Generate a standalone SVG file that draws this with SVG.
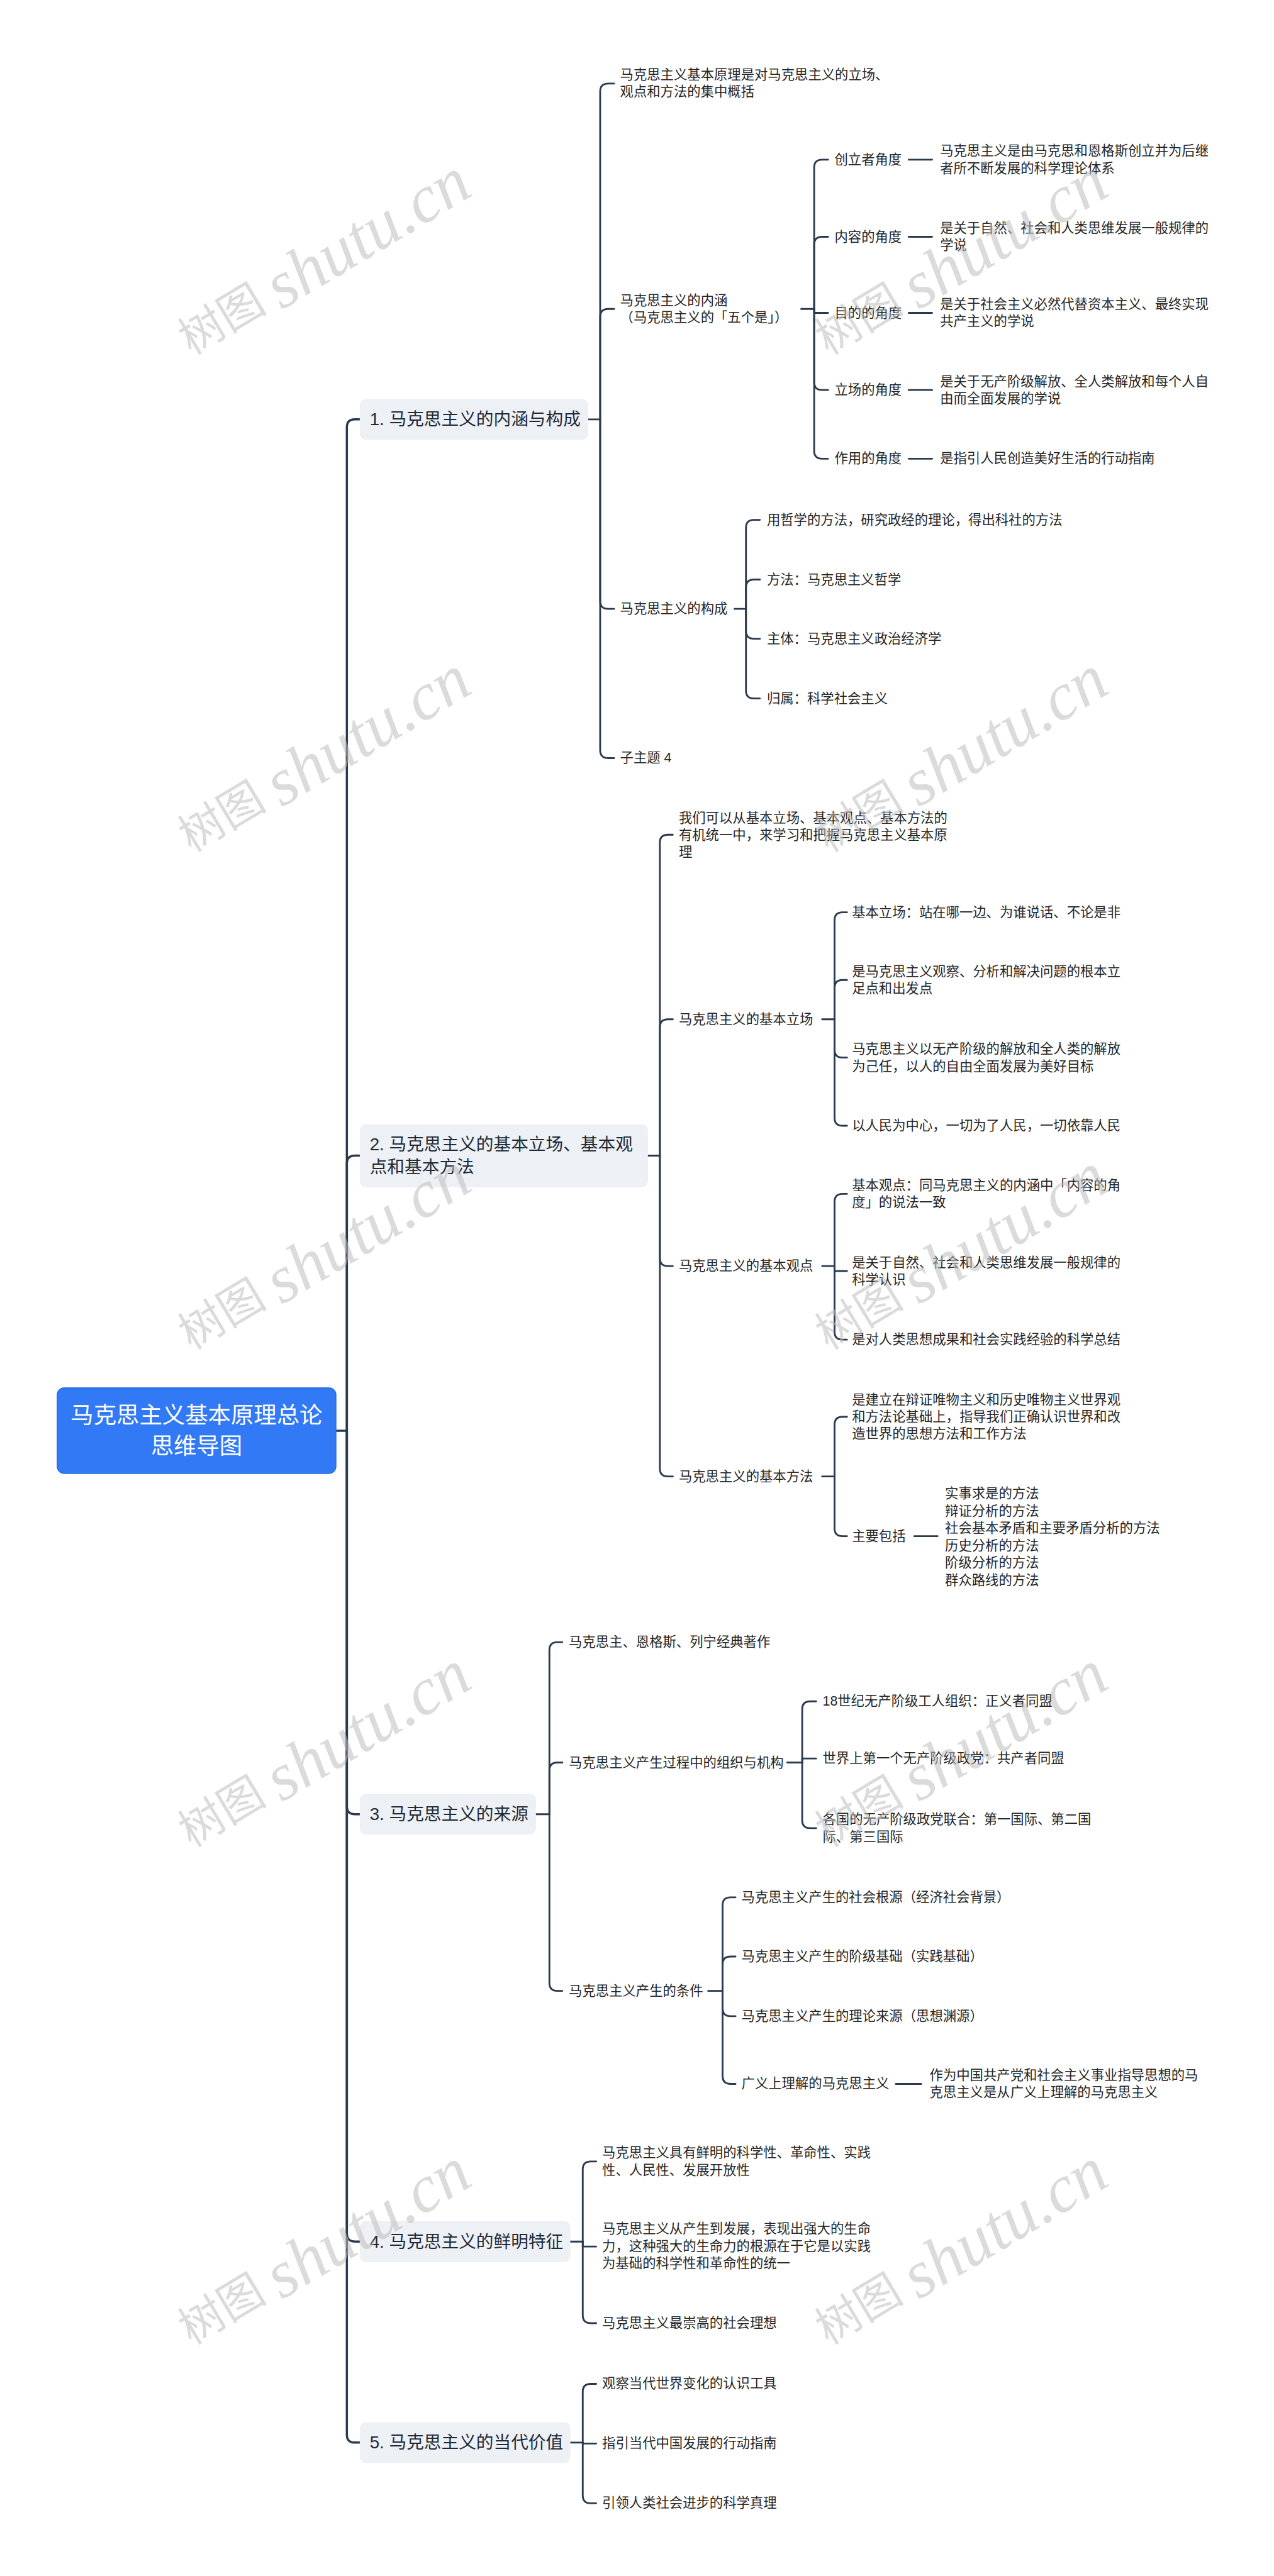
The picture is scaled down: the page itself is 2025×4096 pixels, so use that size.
<svg xmlns="http://www.w3.org/2000/svg" width="2025" height="4096" viewBox="0 0 2025 4096">
<style>
text{font-family:"Liberation Sans","Noto Sans CJK SC",sans-serif;dominant-baseline:central}
.t{font-size:27px;fill:#262626}
.b{font-size:35px;fill:#1f2a37}
.r{font-size:46px;fill:#ffffff;text-anchor:middle}
.bx{fill:#edf0f4}
.c path{fill:none;stroke:#2b3a4e;stroke-width:3.6;stroke-linecap:round;stroke-linejoin:round}
.c .tr{stroke-width:4.4}
.w{font-family:"Liberation Serif","Noto Sans CJK SC",serif;font-size:90px;fill:#bdbdbd;fill-opacity:0.55;text-anchor:middle}
.wl{font-size:135px;font-style:italic}
</style>
<rect width="2025" height="4096" fill="#ffffff"/>
<g transform="scale(0.791)">
<g class="c" id="connectors">
<path class="tr" d="M675 2876H697"/>
<path class="tr" d="M697 2876V859Q697 843 713 843H723"/>
<path class="tr" d="M697 2876V2339Q697 2323 713 2323H723"/>
<path class="tr" d="M697 2876V3631Q697 3647 713 3647H723"/>
<path class="tr" d="M697 2876V4490Q697 4506 713 4506H723"/>
<path class="tr" d="M697 2876V4894Q697 4910 713 4910H723"/>
<path d="M1182 843H1206"/>
<path d="M1206 843V184Q1206 168 1222 168H1234"/>
<path d="M1206 843V637Q1206 621 1222 621H1234"/>
<path d="M1206 843V1208Q1206 1224 1222 1224H1234"/>
<path d="M1206 843V1508Q1206 1524 1222 1524H1234"/>
<path d="M1610 621H1636"/>
<path d="M1636 621V337Q1636 321 1652 321H1664"/>
<path d="M1636 621V492Q1636 476 1652 476H1664"/>
<path d="M1636 621V629H1664"/>
<path d="M1636 621V768Q1636 784 1652 784H1664"/>
<path d="M1636 621V906Q1636 922 1652 922H1664"/>
<path d="M1826 321H1873"/>
<path d="M1826 476H1873"/>
<path d="M1826 629H1873"/>
<path d="M1826 784H1873"/>
<path d="M1826 922H1873"/>
<path d="M1476 1224H1499"/>
<path d="M1499 1224V1061Q1499 1045 1515 1045H1527"/>
<path d="M1499 1224V1181Q1499 1165 1515 1165H1527"/>
<path d="M1499 1224V1268Q1499 1284 1515 1284H1527"/>
<path d="M1499 1224V1388Q1499 1404 1515 1404H1527"/>
<path d="M1302 2323H1326"/>
<path d="M1326 2323V1694Q1326 1678 1342 1678H1352"/>
<path d="M1326 2323V2065Q1326 2049 1342 2049H1352"/>
<path d="M1326 2323V2529Q1326 2545 1342 2545H1352"/>
<path d="M1326 2323V2952Q1326 2968 1342 2968H1352"/>
<path d="M1652 2049H1677"/>
<path d="M1677 2049V1850Q1677 1834 1693 1834H1702"/>
<path d="M1677 2049V1986Q1677 1970 1693 1970H1702"/>
<path d="M1677 2049V2110Q1677 2126 1693 2126H1702"/>
<path d="M1677 2049V2247Q1677 2263 1693 2263H1702"/>
<path d="M1652 2545H1677"/>
<path d="M1677 2545V2416Q1677 2400 1693 2400H1702"/>
<path d="M1677 2545V2555H1702"/>
<path d="M1677 2545V2677Q1677 2693 1693 2693H1702"/>
<path d="M1652 2968H1677"/>
<path d="M1677 2968V2864Q1677 2848 1693 2848H1702"/>
<path d="M1677 2968V3072Q1677 3088 1693 3088H1702"/>
<path d="M1837 3088H1884"/>
<path d="M1077 3647H1104"/>
<path d="M1104 3647V3317Q1104 3301 1120 3301H1130"/>
<path d="M1104 3647V3559Q1104 3543 1120 3543H1130"/>
<path d="M1104 3647V3986Q1104 4002 1120 4002H1130"/>
<path d="M1582 3543H1612"/>
<path d="M1612 3543V3436Q1612 3420 1628 3420H1640"/>
<path d="M1612 3543V3535H1640"/>
<path d="M1612 3543V3659Q1612 3675 1628 3675H1640"/>
<path d="M1423 4002H1452"/>
<path d="M1452 4002V3830Q1452 3814 1468 3814H1478"/>
<path d="M1452 4002V3949Q1452 3933 1468 3933H1478"/>
<path d="M1452 4002V4037Q1452 4053 1468 4053H1478"/>
<path d="M1452 4002V4173Q1452 4189 1468 4189H1478"/>
<path d="M1800 4189H1851"/>
<path d="M1146 4506H1171"/>
<path d="M1171 4506V4361Q1171 4345 1187 4345H1198"/>
<path d="M1171 4506V4516H1198"/>
<path d="M1171 4506V4654Q1171 4670 1187 4670H1198"/>
<path d="M1146 4910H1171"/>
<path d="M1171 4910V4808Q1171 4792 1187 4792H1198"/>
<path d="M1171 4910V4912H1198"/>
<path d="M1171 4910V5016Q1171 5032 1187 5032H1198"/>
</g>

<g id="root">
<rect x="115" y="2790" width="560" height="172" rx="14" fill="#3179f5" stroke="#2b6de2" stroke-width="2"/>
<text class="r" x="395" y="2845">马克思主义基本原理总论</text>
<text class="r" x="395" y="2907">思维导图</text>
</g>

<g id="b1"><rect class="bx" x="723" y="802" width="459" height="82" rx="12"/><text class="b" x="743" y="843">1. 马克思主义的内涵与构成</text></g>
<g id="b2"><rect class="bx" x="723" y="2260" width="579" height="127" rx="12"/><text class="b" x="743" y="2300">2. 马克思主义的基本立场、基本观</text><text class="b" x="743" y="2346">点和基本方法</text></g>
<g id="b3"><rect class="bx" x="723" y="3606" width="354" height="82" rx="12"/><text class="b" x="743" y="3647">3. 马克思主义的来源</text></g>
<g id="b4"><rect class="bx" x="723" y="4465" width="423" height="82" rx="12"/><text class="b" x="743" y="4506">4. 马克思主义的鲜明特征</text></g>
<g id="b5"><rect class="bx" x="723" y="4869" width="423" height="82" rx="12"/><text class="b" x="743" y="4910">5. 马克思主义的当代价值</text></g>

<g id="n1-1"><text class="t" x="1246" y="150.5">马克思主义基本原理是对马克思主义的立场、</text><text class="t" x="1246" y="185">观点和方法的集中概括</text></g>
<g id="n1-2"><text class="t" x="1246" y="604">马克思主义的内涵</text><text class="t" x="1246" y="638.5">（马克思主义的「五个是」）</text></g>
<g id="n1-2-1"><text class="t" x="1677" y="321">创立者角度</text></g>
<g id="n1-2-1a"><text class="t" x="1889" y="304">马克思主义是由马克思和恩格斯创立并为后继</text><text class="t" x="1889" y="338.5">者所不断发展的科学理论体系</text></g>
<g id="n1-2-2"><text class="t" x="1677" y="476">内容的角度</text></g>
<g id="n1-2-2a"><text class="t" x="1889" y="459">是关于自然、社会和人类思维发展一般规律的</text><text class="t" x="1889" y="493.5">学说</text></g>
<g id="n1-2-3"><text class="t" x="1677" y="629">目的的角度</text></g>
<g id="n1-2-3a"><text class="t" x="1889" y="612">是关于社会主义必然代替资本主义、最终实现</text><text class="t" x="1889" y="646.5">共产主义的学说</text></g>
<g id="n1-2-4"><text class="t" x="1677" y="784">立场的角度</text></g>
<g id="n1-2-4a"><text class="t" x="1889" y="767">是关于无产阶级解放、全人类解放和每个人自</text><text class="t" x="1889" y="801.5">由而全面发展的学说</text></g>
<g id="n1-2-5"><text class="t" x="1677" y="922">作用的角度</text></g>
<g id="n1-2-5a"><text class="t" x="1889" y="922">是指引人民创造美好生活的行动指南</text></g>
<g id="n1-3"><text class="t" x="1246" y="1224">马克思主义的构成</text></g>
<g id="n1-3-1"><text class="t" x="1541" y="1045">用哲学的方法，研究政经的理论，得出科社的方法</text></g>
<g id="n1-3-2"><text class="t" x="1541" y="1165">方法：马克思主义哲学</text></g>
<g id="n1-3-3"><text class="t" x="1541" y="1284">主体：马克思主义政治经济学</text></g>
<g id="n1-3-4"><text class="t" x="1541" y="1404">归属：科学社会主义</text></g>
<g id="n1-4"><text class="t" x="1246" y="1524">子主题 4</text></g>

<g id="n2-1"><text class="t" x="1364" y="1644.5">我们可以从基本立场、基本观点、基本方法的</text><text class="t" x="1364" y="1679">有机统一中，来学习和把握马克思主义基本原</text><text class="t" x="1364" y="1713.5">理</text></g>
<g id="n2-2"><text class="t" x="1364" y="2049">马克思主义的基本立场</text></g>
<g id="n2-2-1"><text class="t" x="1712" y="1834">基本立场：站在哪一边、为谁说话、不论是非</text></g>
<g id="n2-2-2"><text class="t" x="1712" y="1953">是马克思主义观察、分析和解决问题的根本立</text><text class="t" x="1712" y="1987.5">足点和出发点</text></g>
<g id="n2-2-3"><text class="t" x="1712" y="2109">马克思主义以无产阶级的解放和全人类的解放</text><text class="t" x="1712" y="2143.5">为己任，以人的自由全面发展为美好目标</text></g>
<g id="n2-2-4"><text class="t" x="1712" y="2263">以人民为中心，一切为了人民，一切依靠人民</text></g>
<g id="n2-3"><text class="t" x="1364" y="2545">马克思主义的基本观点</text></g>
<g id="n2-3-1"><text class="t" x="1712" y="2383">基本观点：同马克思主义的内涵中「内容的角</text><text class="t" x="1712" y="2417.5">度」的说法一致</text></g>
<g id="n2-3-2"><text class="t" x="1712" y="2538">是关于自然、社会和人类思维发展一般规律的</text><text class="t" x="1712" y="2572.5">科学认识</text></g>
<g id="n2-3-3"><text class="t" x="1712" y="2693">是对人类思想成果和社会实践经验的科学总结</text></g>
<g id="n2-4"><text class="t" x="1364" y="2968">马克思主义的基本方法</text></g>
<g id="n2-4-1"><text class="t" x="1712" y="2814">是建立在辩证唯物主义和历史唯物主义世界观</text><text class="t" x="1712" y="2848.5">和方法论基础上，指导我们正确认识世界和改</text><text class="t" x="1712" y="2883">造世界的思想方法和工作方法</text></g>
<g id="n2-4-2"><text class="t" x="1712" y="3088">主要包括</text></g>
<g id="n2-4-2a"><text class="t" x="1899" y="3003">实事求是的方法</text><text class="t" x="1899" y="3037.8">辩证分析的方法</text><text class="t" x="1899" y="3072.6">社会基本矛盾和主要矛盾分析的方法</text><text class="t" x="1899" y="3107.4">历史分析的方法</text><text class="t" x="1899" y="3142.2">阶级分析的方法</text><text class="t" x="1899" y="3177">群众路线的方法</text></g>

<g id="n3-1"><text class="t" x="1143" y="3301">马克思主、恩格斯、列宁经典著作</text></g>
<g id="n3-2"><text class="t" x="1143" y="3543">马克思主义产生过程中的组织与机构</text></g>
<g id="n3-2-1"><text class="t" x="1653" y="3420">18世纪无产阶级工人组织：正义者同盟</text></g>
<g id="n3-2-2"><text class="t" x="1653" y="3535">世界上第一个无产阶级政党：共产者同盟</text></g>
<g id="n3-2-3"><text class="t" x="1653" y="3658">各国的无产阶级政党联合：第一国际、第二国</text><text class="t" x="1653" y="3692.5">际、第三国际</text></g>
<g id="n3-3"><text class="t" x="1143" y="4002">马克思主义产生的条件</text></g>
<g id="n3-3-1"><text class="t" x="1490" y="3814">马克思主义产生的社会根源（经济社会背景）</text></g>
<g id="n3-3-2"><text class="t" x="1490" y="3933">马克思主义产生的阶级基础（实践基础）</text></g>
<g id="n3-3-3"><text class="t" x="1490" y="4053">马克思主义产生的理论来源（思想渊源）</text></g>
<g id="n3-3-4"><text class="t" x="1490" y="4189">广义上理解的马克思主义</text></g>
<g id="n3-3-4a"><text class="t" x="1868" y="4172">作为中国共产党和社会主义事业指导思想的马</text><text class="t" x="1868" y="4206.5">克思主义是从广义上理解的马克思主义</text></g>

<g id="n4-1"><text class="t" x="1210" y="4328">马克思主义具有鲜明的科学性、革命性、实践</text><text class="t" x="1210" y="4362.5">性、人民性、发展开放性</text></g>
<g id="n4-2"><text class="t" x="1210" y="4481">马克思主义从产生到发展，表现出强大的生命</text><text class="t" x="1210" y="4515.5">力，这种强大的生命力的根源在于它是以实践</text><text class="t" x="1210" y="4550">为基础的科学性和革命性的统一</text></g>
<g id="n4-3"><text class="t" x="1210" y="4670">马克思主义最崇高的社会理想</text></g>

<g id="n5-1"><text class="t" x="1210" y="4792">观察当代世界变化的认识工具</text></g>
<g id="n5-2"><text class="t" x="1210" y="4912">指引当代中国发展的行动指南</text></g>
<g id="n5-3"><text class="t" x="1210" y="5032">引领人类社会进步的科学真理</text></g>

<g id="watermarks">
<text class="w" transform="translate(650 520) rotate(-31)">树图 <tspan class="wl">shutu.cn</tspan></text>
<text class="w" transform="translate(1930 520) rotate(-31)">树图 <tspan class="wl">shutu.cn</tspan></text>
<text class="w" transform="translate(650 1520) rotate(-31)">树图 <tspan class="wl">shutu.cn</tspan></text>
<text class="w" transform="translate(1930 1520) rotate(-31)">树图 <tspan class="wl">shutu.cn</tspan></text>
<text class="w" transform="translate(650 2520) rotate(-31)">树图 <tspan class="wl">shutu.cn</tspan></text>
<text class="w" transform="translate(1930 2520) rotate(-31)">树图 <tspan class="wl">shutu.cn</tspan></text>
<text class="w" transform="translate(650 3520) rotate(-31)">树图 <tspan class="wl">shutu.cn</tspan></text>
<text class="w" transform="translate(1930 3520) rotate(-31)">树图 <tspan class="wl">shutu.cn</tspan></text>
<text class="w" transform="translate(650 4520) rotate(-31)">树图 <tspan class="wl">shutu.cn</tspan></text>
<text class="w" transform="translate(1930 4520) rotate(-31)">树图 <tspan class="wl">shutu.cn</tspan></text>
</g>
</g>
</svg>
